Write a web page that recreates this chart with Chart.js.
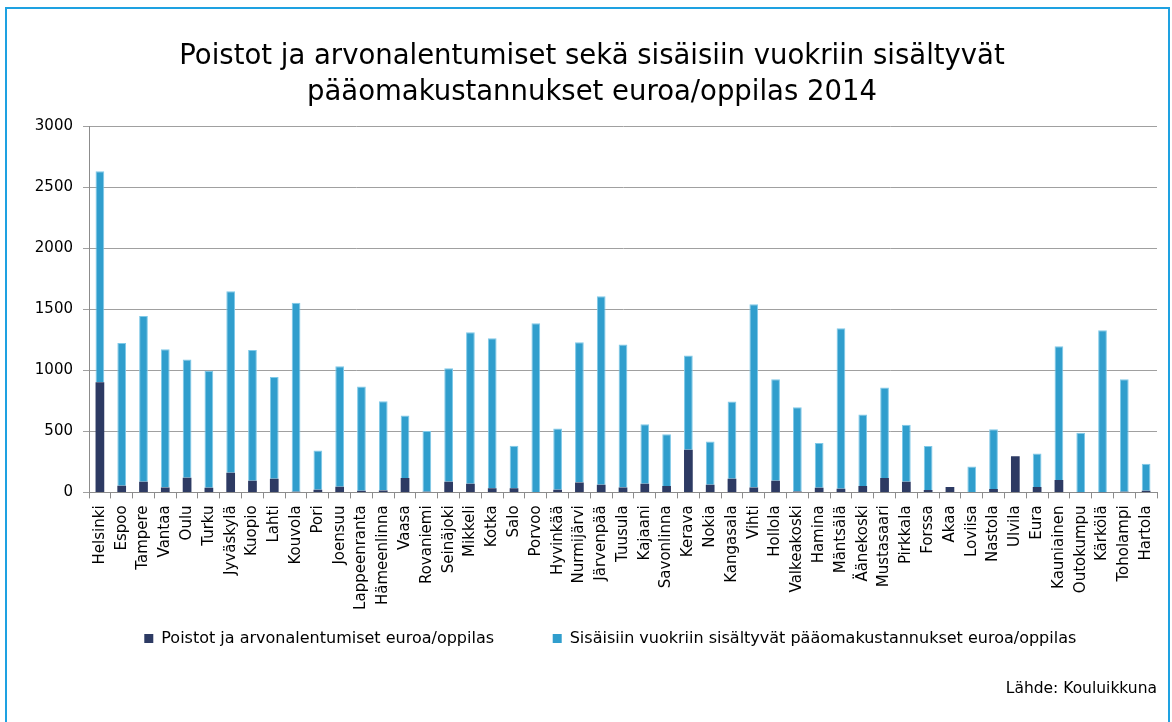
<!DOCTYPE html>
<html>
<head>
<meta charset="utf-8">
<script src="https://cdn.jsdelivr.net/npm/chart.js@4"></script>
<style>
  html, body { margin: 0; padding: 0; background: #fff; }
  #wrap { position: relative; width: 1172px; height: 722px; overflow: hidden; }
  #frame { position: absolute; left: 5px; top: 7px; width: 1161px; height: 760px;
           border: 2px solid #1ea1e1; border-bottom: none; pointer-events: none; }
  canvas { position: absolute; left: 0; top: 0; }
</style>
</head>
<body>
<div id="wrap">
  <canvas id="c" width="1172" height="722"></canvas>
  <div id="frame"></div>
</div>
<script>
const categories = ["Helsinki","Espoo","Tampere","Vantaa","Oulu","Turku","Jyväskylä","Kuopio","Lahti","Kouvola","Pori","Joensuu","Lappeenranta","Hämeenlinna","Vaasa","Rovaniemi","Seinäjoki","Mikkeli","Kotka","Salo","Porvoo","Hyvinkää","Nurmijärvi","Järvenpää","Tuusula","Kajaani","Savonlinna","Kerava","Nokia","Kangasala","Vihti","Hollola","Valkeakoski","Hamina","Mäntsälä","Äänekoski","Mustasaari","Pirkkala","Forssa","Akaa","Loviisa","Nastola","Ulvila","Eura","Kauniainen","Outokumpu","Kärkölä","Toholampi","Hartola"];

const poistot = [903,55,87,41,120,38,161,95,112,5,22,46,14,16,117,5,
                 87,71,35,35,3,22,82,63,41,71,52,349,63,112,41,95,
                 8,38,30,52,117,87,19,44,3,27,297,44,101,2,2,5,14];

const vuokrat = [1726,1169,1358,1132,968,957,1486,1072,832,1549,322,988,853,731,513,497,
                 930,1241,1228,347,1382,502,1148,1543,1170,488,425,772,354,632,1500,832,
                 690,366,1314,586,742,467,360,0,210,491,0,275,1096,486,1326,922,221];

const yTicks = [0,500,1000,1500,2000,2500,3000];

const seriesNames = ["Poistot ja arvonalentumiset euroa/oppilas",
                     "Sisäisiin vuokriin sisältyvät pääomakustannukset euroa/oppilas"];
const titleLines = ["Poistot ja arvonalentumiset sekä sisäisiin vuokriin sisältyvät",
                    "pääomakustannukset euroa/oppilas 2014"];
const sourceText = "Lähde: Kouluikkuna";

Chart.defaults.font.family = "'DejaVu Sans', Verdana, sans-serif";
Chart.defaults.color = "#000";

// trailing spacing after each legend entry (visual gap only)
const legendGap = ["        ", "     "];

new Chart(document.getElementById('c'), {
  type: 'bar',
  data: {
    labels: categories,
    datasets: [
      { label: seriesNames[0], data: poistot, backgroundColor: '#2d3a63',
        categoryPercentage: 1.0, barPercentage: 0.4 },
      { label: seriesNames[1], data: vuokrat, backgroundColor: '#309ecd',
        borderColor: '#7fc9e8', borderWidth: {top: 1, left: 1, right: 1, bottom: 0},
        categoryPercentage: 1.0, barPercentage: 0.4 }
    ]
  },
  options: {
    responsive: false,
    animation: false,
    layout: { padding: { left: 27, right: 15, top: 0, bottom: 0 } },
    scales: {
      x: {
        stacked: true,
        grid: { display: true, drawOnChartArea: false, drawTicks: true, tickLength: 6,
                color: '#8c8c8c', offset: true },
        border: { color: '#8c8c8c', width: 1 },
        ticks: { autoSkip: false, minRotation: 90, maxRotation: 90, padding: 7,
                 font: { size: 15 }, color: '#000' },
        afterFit: (s) => { s.height = 120; }
      },
      y: {
        stacked: true,
        min: 0, max: 3000,
        afterBuildTicks: (s) => { s.ticks = yTicks.map(v => ({ value: v })); },
        grid: { color: '#a0a0a0', lineWidth: 1, drawTicks: true, tickLength: 6 },
        border: { color: '#8c8c8c', width: 1 },
        ticks: { padding: 10, font: { size: 15 }, color: '#000',
                 callback: (v) => String(v) },
        afterFit: (s) => { s.width = 62; }
      }
    },
    plugins: {
      title: {
        display: true, text: titleLines, color: '#000',
        font: { size: 27.5, weight: 'normal', lineHeight: 1.31 },
        padding: { top: 39, bottom: 15 }
      },
      subtitle: {
        display: true, text: sourceText, position: 'bottom', align: 'end', color: '#000',
        font: { size: 15.5, weight: 'normal', lineHeight: 1.2 },
        padding: { top: 23, bottom: 24 }
      },
      legend: {
        position: 'bottom', fullSize: false,
        labels: {
          boxWidth: 9, boxHeight: 9, padding: 18, font: { size: 16 }, color: '#000',
          generateLabels: (chart) =>
            Chart.defaults.plugins.legend.labels.generateLabels(chart)
              .map((it, i) => Object.assign(it, { text: it.text + legendGap[i], lineWidth: 0 }))
        }
      },
      tooltip: { enabled: false }
    }
  }
});
</script>
</body>
</html>
